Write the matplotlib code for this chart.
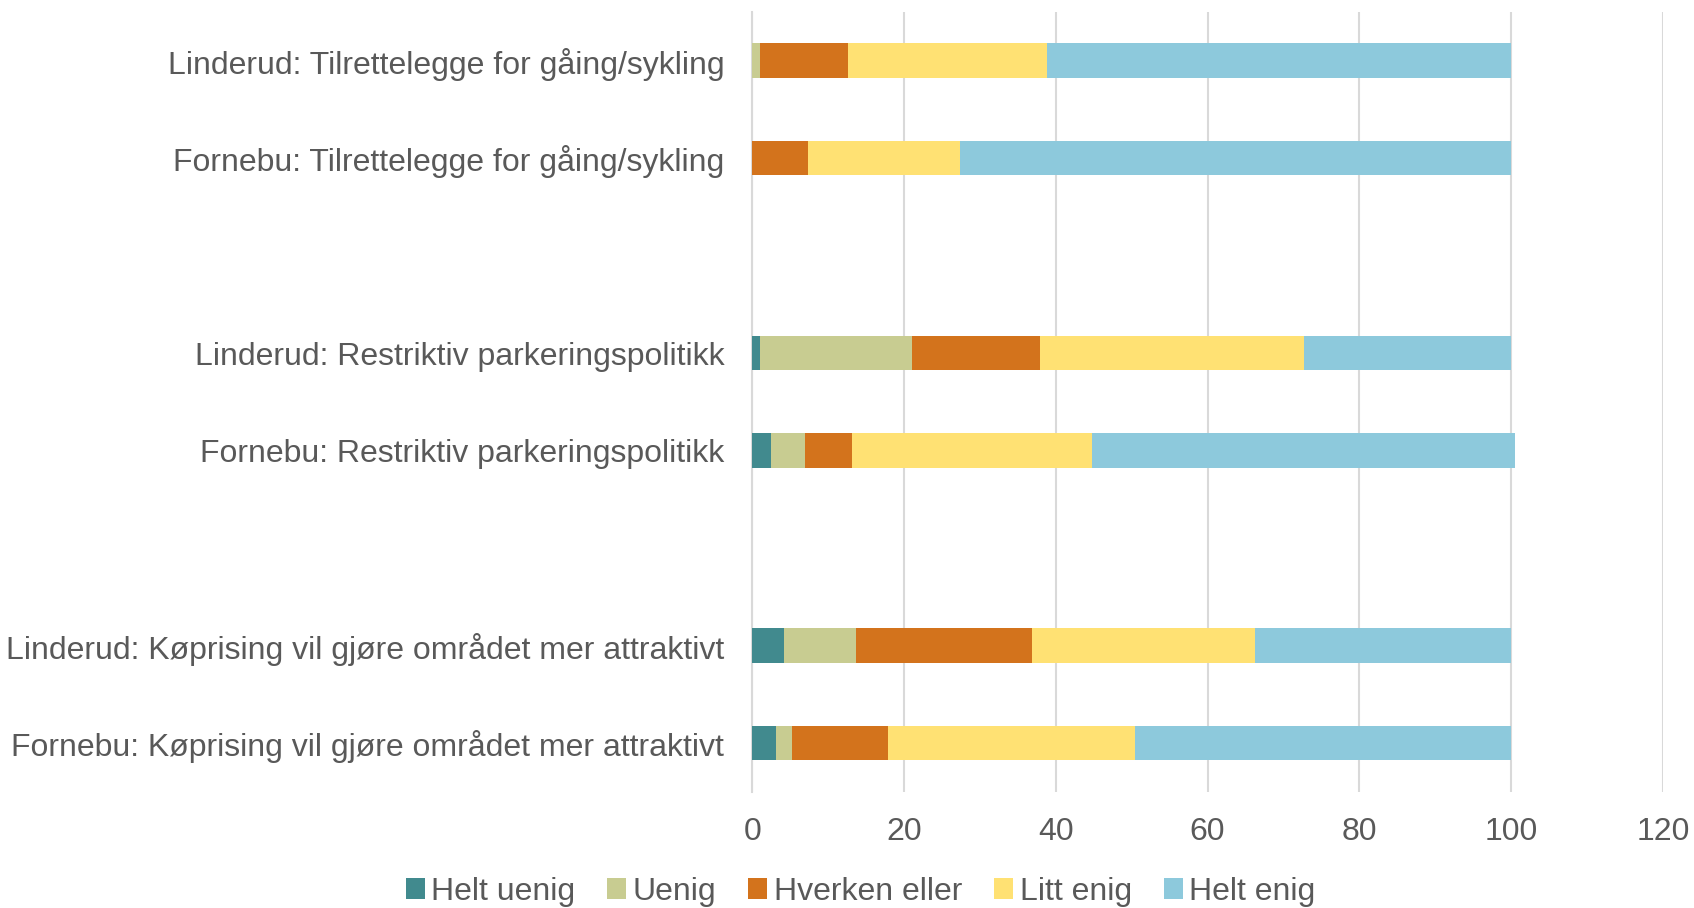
import matplotlib
matplotlib.use("Agg")
import matplotlib.pyplot as plt
import numpy as np

plt.rcParams['font.family'] = ['Liberation Sans', 'DejaVu Sans']

# Categories bottom -> top (blank entries are empty spacer rows)
categories = [
    "Fornebu: Køprising vil gjøre området mer attraktivt",
    "Linderud: Køprising vil gjøre området mer attraktivt",
    "",
    "Fornebu: Restriktiv parkeringspolitikk",
    "Linderud: Restriktiv parkeringspolitikk",
    "",
    "Fornebu: Tilrettelegge for gåing/sykling",
    "Linderud: Tilrettelegge for gåing/sykling",
]
series_names = ["Helt uenig", "Uenig", "Hverken eller", "Litt enig", "Helt enig"]
helt_uenig    = [3.2, 4.2, 0, 2.5, 1.05, 0, 0.0, 0.0]
uenig         = [2.1, 9.5, 0, 4.4, 20.05, 0, 0.0, 1.0]
hverken_eller = [12.6, 23.2, 0, 6.3, 16.8, 0, 7.4, 11.6]
litt_enig     = [32.6, 29.4, 0, 31.6, 34.8, 0, 20.0, 26.3]
helt_enig     = [49.5, 33.7, 0, 55.7, 27.3, 0, 72.6, 61.1]
colors = ["#418A8E", "#C8CC91", "#D3731C", "#FFE173", "#8DC9DC"]
xticks = [0, 20, 40, 60, 80, 100, 120]

data = [helt_uenig, uenig, hverken_eller, litt_enig, helt_enig]

fig = plt.figure(figsize=(16.94, 9.08), dpi=100)
ax = fig.add_axes([0.444, 0.128, 0.5377, 0.8588])

y = np.arange(len(categories))
left = np.zeros(len(categories))
handles = []
for name, vals, c in zip(series_names, data, colors):
    vals = np.array(vals, dtype=float)
    b = ax.barh(y, vals, left=left, height=0.355, color=c, label=name, linewidth=0, zorder=3)
    handles.append(b)
    left += vals

ax.set_xlim(0, 120)
ax.set_ylim(-0.5, len(categories) - 0.5)
ax.set_xticks(xticks)
ax.set_xticklabels([str(t) for t in xticks])
ax.set_yticks(y)
ax.set_yticklabels(categories)

txtc = "#595959"
ax.tick_params(axis='both', length=0, labelsize=23, colors=txtc)
ax.tick_params(axis='y', pad=20)
ax.tick_params(axis='x', pad=18)
ax.xaxis.grid(True, color="#D9D9D9", linewidth=1.5, zorder=0)
ax.set_axisbelow(True)
for s in ['top', 'right', 'bottom']:
    ax.spines[s].set_visible(False)
ax.spines['left'].set_color("#D9D9D9")
ax.spines['left'].set_linewidth(1.5)

leg = fig.legend(handles=handles, labels=series_names, loc='center',
                 bbox_to_anchor=(0.508, 0.018), ncol=5, frameon=False,
                 fontsize=23, handlelength=0.6, handleheight=0.6,
                 handletextpad=0.2, columnspacing=1.0)
for t in leg.get_texts():
    t.set_color(txtc)

fig.savefig("out.png", dpi=100)
